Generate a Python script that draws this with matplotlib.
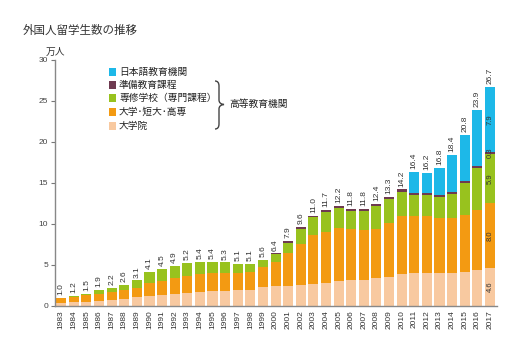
import matplotlib
matplotlib.use("Agg")
import matplotlib.pyplot as plt
from matplotlib.path import Path
from matplotlib.patches import PathPatch
import numpy as np

years = list(range(1983, 2018))
grad = [0.40, 0.45, 0.50, 0.60, 0.75, 0.85, 1.10, 1.25, 1.30, 1.45, 1.60, 1.73, 1.80, 1.85, 1.90,
        1.95, 2.25, 2.40, 2.42, 2.54, 2.66, 2.82, 3.00, 3.10, 3.20, 3.35, 3.55, 3.90, 3.97, 3.96,
        3.96, 4.00, 4.14, 4.35, 4.60]
univ = [0.55, 0.65, 0.80, 0.90, 1.00, 1.10, 1.05, 1.50, 1.75, 1.90, 2.00, 2.15, 2.15, 2.10, 2.10,
        2.15, 2.45, 2.95, 4.00, 4.96, 5.94, 6.17, 6.50, 6.30, 6.10, 6.05, 6.50, 7.10, 7.00, 7.00,
        6.80, 6.73, 6.93, 7.39, 8.00]
senshu = [0.05, 0.10, 0.20, 0.40, 0.45, 0.65, 0.95, 1.35, 1.45, 1.55, 1.60, 1.52, 1.45, 1.35, 1.10,
          1.00, 0.90, 0.95, 1.30, 1.90, 2.20, 2.50, 2.50, 2.20, 2.30, 2.75, 3.00, 2.90, 2.55, 2.52,
          2.55, 2.92, 3.87, 5.02, 5.90]
prep = [0, 0, 0, 0, 0, 0, 0, 0, 0, 0, 0, 0, 0, 0, 0,
        0, 0, 0.10, 0.18, 0.20, 0.20, 0.21, 0.20, 0.20, 0.20, 0.25, 0.25, 0.30, 0.30, 0.30,
        0.24, 0.27, 0.28, 0.35, 0.30]
jp = [0] * 28 + [2.56, 2.41, 3.26, 4.50, 5.63, 6.82, 7.90]
total_labels = ["1.0", "1.2", "1.5", "1.9", "2.2", "2.6", "3.1", "4.1", "4.5", "4.9", "5.2", "5.4",
                "5.4", "5.3", "5.1", "5.1", "5.6", "6.4", "7.9", "9.6", "11.0", "11.7", "12.2",
                "11.8", "11.8", "12.4", "13.3", "14.2", "16.4", "16.2", "16.8", "18.4", "20.8",
                "23.9", "26.7"]
series_names = ["大学院", "大学･短大･高専", "専修学校（専門課程）", "準備教育課程", "日本語教育機関"]
last_labels = ["4.6", "8.0", "5.9", "0.3", "7.9"]
group_label = "高等教育機関"

colors = ["#F8C9A0", "#F39A12", "#98C21E", "#6E3A50", "#1DB8E8"]
jfont = ["Noto Sans CJK JP", "DejaVu Sans"]
nfont = ["Liberation Sans", "DejaVu Sans"]

W, H = 528, 359
fig = plt.figure(figsize=(W / 100, H / 100), dpi=100)
ax = fig.add_axes([0.104, 0.148, 0.837, 0.685])


def fx(px):
    return px / W


def fy(py):
    return 1 - py / H


x = np.arange(len(years))
data = [grad, univ, senshu, prep, jp]
bottom = np.zeros(len(years))
for vals, c in zip(data, colors):
    v = np.array(vals)
    ax.bar(x, v, width=0.8, bottom=bottom, color=c, linewidth=0)
    bottom += v
totals = bottom

for xi, t, lab in zip(x, totals, total_labels):
    ax.text(xi, t + 0.35, lab, rotation=90, ha="center", va="bottom", fontsize=6,
            family=nfont, color="#333333")

# labels inside last bar
b = 0.0
for vals, lab in zip(data, last_labels):
    v = vals[-1]
    ax.text(x[-1], b + v / 2, lab, rotation=90, ha="center", va="center", fontsize=5.5,
            family=nfont, color="#333333")
    b += v

ax.set_xlim(-0.5, 34.55)
ax.set_ylim(0, 30)
ax.set_yticks(range(0, 31, 5))
ax.set_yticklabels([str(v) for v in range(0, 31, 5)], fontsize=6, family=nfont, color="#444444")
ax.set_xticks(x)
ax.set_xticklabels([str(y) for y in years], rotation=90, fontsize=6, family=nfont, color="#333333")
ax.tick_params(axis="x", length=0, pad=3)
ax.tick_params(axis="y", length=3, width=0.8, color="#777777", pad=2)
for s in ["top", "right"]:
    ax.spines[s].set_visible(False)
for s in ["left", "bottom"]:
    ax.spines[s].set_color("#888888")
    ax.spines[s].set_linewidth(1.0)

# title and unit
fig.text(fx(23), fy(30), "外国人留学生数の推移", fontsize=8.3, family=jfont, va="center",
         ha="left", color="#333333")
fig.text(fx(55), fy(52), "万人", fontsize=7, family=jfont, va="center", ha="center",
         color="#333333")

# legend (top to bottom)
leg_y = [72, 85, 98, 112, 126]
order = [4, 3, 2, 1, 0]
for yy, idx in zip(leg_y, order):
    fig.patches.append(plt.Rectangle((fx(108.5), fy(yy + 3.5)), 7 / W, 7 / H,
                                     transform=fig.transFigure, color=colors[idx], linewidth=0))
    fig.text(fx(119), fy(yy), series_names[idx], fontsize=7.0, family=jfont,
             va="center", ha="left", color="#222222")

# brace
pts = [(215, 81), (219, 81), (219, 86), (219, 100), (219, 104), (224, 104.5),
       (219, 105), (219, 109), (219, 124), (219, 129), (215, 129)]
codes = [Path.MOVETO, Path.CURVE3, Path.CURVE3, Path.LINETO, Path.CURVE3, Path.CURVE3,
         Path.CURVE3, Path.CURVE3, Path.LINETO, Path.CURVE3, Path.CURVE3]
path = Path([(fx(a), fy(b_)) for a, b_ in pts], codes)
fig.patches.append(PathPatch(path, transform=fig.transFigure, fill=False,
                             edgecolor="#444444", linewidth=1.0))
fig.text(fx(229), fy(104), group_label, fontsize=7.0, family=jfont, va="center",
         ha="left", color="#222222")

fig.savefig("out.png", dpi=100)
